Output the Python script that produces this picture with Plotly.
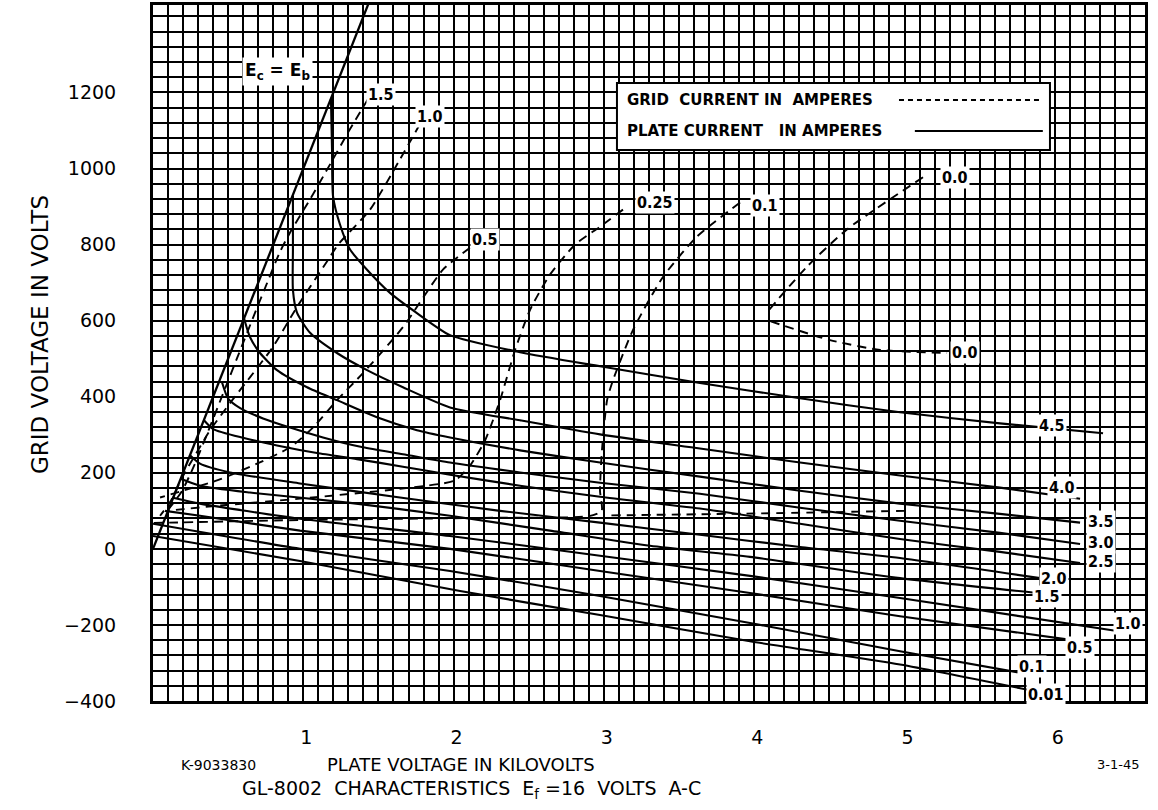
import plotly.graph_objects as go

# ---------------- data (plate kV, grid V) ----------------
ecb_x = [0.0, 1.45]
ecb_y = [0.0, 1450.0]

# plate-current curves (solid), amperes
ip_labels = ["4.5", "4.0", "3.5", "3.0", "2.5", "2.0", "1.5", "1.0", "0.5", "0.1", "0.01"]
ip45_x = [1.184, 1.191, 1.198, 1.244, 1.311, 1.424, 1.577, 1.756, 1.976, 2.442, 2.974, 3.639, 4.305, 4.970, 5.635, 6.321]
ip45_y = [1183, 1051, 927, 853, 787, 734, 673, 620, 562, 517, 480, 436, 396, 359, 330, 304]
ip40_x = [0.931, 0.931, 0.931, 0.958, 1.045, 1.224, 1.424, 1.663, 1.976, 2.442, 2.974, 3.639, 4.305, 4.970, 5.635, 6.168]
ip40_y = [929, 787, 681, 621, 568, 515, 470, 425, 372, 338, 301, 264, 227, 193, 161, 132]
ip35_x = [0.605, 0.645, 0.712, 0.825, 1.025, 1.224, 1.490, 1.756, 1.976, 2.442, 2.974, 3.639, 4.305, 4.970, 5.635, 6.168]
ip35_y = [607, 557, 515, 470, 425, 391, 346, 312, 293, 259, 227, 190, 153, 119, 92, 69]
ip30_x = [0.459, 0.500, 0.580, 0.732, 0.912, 1.131, 1.397, 1.663, 1.976, 2.442, 2.974, 3.639, 4.305, 4.970, 5.635, 6.168]
ip30_y = [438, 395, 370, 343, 319, 293, 267, 249, 227, 201, 174, 145, 108, 74, 42, 13]
ip25_x = [0.339, 0.400, 0.599, 0.825, 1.091, 1.357, 1.663, 1.976, 2.442, 2.974, 3.639, 4.305, 4.970, 5.635, 6.168]
ip25_y = [338, 315, 292, 272, 252, 236, 216, 195, 166, 137, 106, 66, 26, -8, -37]
ip20_x = [0.246, 0.313, 0.512, 0.978, 1.643, 2.309, 2.974, 3.639, 4.305, 4.970, 5.902]
ip20_y = [246, 224, 201, 172, 135, 100, 69, 37, 5, -24, -77]
ip15_x = [0.180, 0.313, 0.645, 1.311, 1.976, 2.641, 3.307, 3.972, 4.970, 5.882]
ip15_y = [185, 166, 148, 121, 87, 48, 8, -21, -77, -116]
ip10_x = [0.126, 0.313, 0.978, 1.976, 2.974, 3.972, 4.970, 6.414]
ip10_y = [135, 119, 79, 34, -18, -71, -129, -216]
ip05_x = [0.080, 0.313, 0.978, 1.976, 2.974, 3.972, 4.970, 6.081]
ip05_y = [100, 87, 48, 0, -58, -116, -177, -238]
ip01_x = [0.0, 0.978, 1.976, 2.974, 3.972, 4.970, 5.788]
ip01_y = [66, 0, -58, -124, -195, -269, -327]
ip001_x = [0.0, 0.978, 2.043, 2.974, 3.972, 4.970, 5.815]
ip001_y = [34, -32, -111, -174, -243, -304, -370]

# grid-current curves (dashed), amperes
ig15_x = [1.431, 1.311, 1.178, 1.045, 0.912, 0.845, 0.760, 0.670, 0.570, 0.470, 0.370, 0.275, 0.190, 0.110]
ig15_y = [1183, 1104, 1011, 919, 832, 781, 700, 612, 512, 412, 312, 220, 150, 108]
ig10_x = [1.776, 1.643, 1.444, 1.231, 1.178, 0.958, 0.798, 0.645, 0.512, 0.380, 0.280, 0.190, 0.120, 0.047]
ig10_y = [1117, 1024, 892, 800, 768, 636, 531, 451, 383, 312, 246, 185, 127, 87]
ig05_x = [2.109, 1.929, 1.663, 1.397, 1.224, 1.065, 0.912, 0.692, 0.426, 0.200, 0.047]
ig05_y = [792, 734, 583, 462, 391, 319, 267, 224, 180, 153, 135]
ig025_x = [3.127, 2.974, 2.808, 2.641, 2.508, 2.409, 2.309, 2.209, 2.109, 2.009, 1.643, 0.978, 0.446, 0.093]
ig025_y = [892, 847, 800, 721, 628, 523, 391, 285, 219, 180, 158, 132, 114, 100]
ig01_x = [3.906, 3.619, 3.393, 3.194, 3.061, 3.021, 2.987, 2.974, 2.985, 2.900, 2.300, 1.000, 0.000]
ig01_y = [911, 821, 715, 576, 444, 391, 259, 153, 100, 86, 82, 76, 68]
ig01b_x = [3.05, 4.0, 5.003]
ig01b_y = [88, 93, 100]
ig00a_x = [5.123, 4.617, 4.351, 4.080]
ig00a_y = [977, 840, 742, 620]
ig00b_x = [4.110, 4.504, 4.837, 5.283]
ig00b_y = [598, 549, 523, 515]

# label anchors (kV, V)
ip_lab_x = [5.98, 6.05, 6.31, 6.31, 6.31, 5.995, 5.95, 6.487, 6.168, 5.85, 5.94]
ip_lab_y = [325, 161, 71, 16, -34, -79, -124, -195, -259, -309, -383]
ig_labels = ["1.5", "1.0", "0.5", "0.25", "0.1", "0.0", "0.0"]
ig_lab_x = [1.517, 1.843, 2.209, 3.340, 4.072, 5.336, 5.402]
ig_lab_y = [1196, 1138, 813, 911, 903, 977, 517]

x_ticks = [1, 2, 3, 4, 5, 6]
y_ticks = [-400, -200, 0, 200, 400, 600, 800, 1000, 1200]
y_ticktext = ["\u2212400", "\u2212200", "0", "200", "400", "600", "800", "1000", "1200"]

# ---------------- figure ----------------
fig = go.Figure()
LW = 2.1
GW = 1.7
solid = [(ip45_x, ip45_y), (ip40_x, ip40_y), (ip35_x, ip35_y), (ip30_x, ip30_y), (ip25_x, ip25_y),
         (ip20_x, ip20_y), (ip15_x, ip15_y), (ip10_x, ip10_y), (ip05_x, ip05_y), (ip01_x, ip01_y),
         (ip001_x, ip001_y)]
dashed = [(ig15_x, ig15_y), (ig10_x, ig10_y), (ig05_x, ig05_y), (ig025_x, ig025_y), (ig01_x, ig01_y),
          (ig01b_x, ig01b_y), (ig00a_x, ig00a_y), (ig00b_x, ig00b_y)]

fig.add_trace(go.Scatter(x=ecb_x, y=ecb_y, mode="lines", line=dict(color="black", width=2.3),
                         hoverinfo="skip", showlegend=False))
for xs, ys in solid:
    fig.add_trace(go.Scatter(x=xs, y=ys, mode="lines",
                             line=dict(color="black", width=LW, shape="spline", smoothing=0.6),
                             hoverinfo="skip", showlegend=False))
for xs, ys in dashed:
    fig.add_trace(go.Scatter(x=xs, y=ys, mode="lines",
                             line=dict(color="black", width=1.9, dash="9px,6px", shape="spline", smoothing=0.6),
                             hoverinfo="skip", showlegend=False))

lab_font = dict(family="DejaVu Sans Condensed, DejaVu Sans", size=16, color="black")
for t, x, y in zip(ip_labels, ip_lab_x, ip_lab_y):
    fig.add_annotation(x=x, y=y, text="<b>" + t + "</b>", showarrow=False, bgcolor="white",
                       borderpad=1, font=lab_font, xanchor="center", yanchor="middle")
for t, x, y in zip(ig_labels, ig_lab_x, ig_lab_y):
    fig.add_annotation(x=x, y=y, text="<b>" + t + "</b>", showarrow=False, bgcolor="white",
                       borderpad=1, font=lab_font, xanchor="center", yanchor="middle")

fig.add_annotation(x=0.83, y=1254, text="<b>E<sub>c</sub> = E<sub>b</sub></b>", showarrow=False,
                   bgcolor="white", borderpad=2, xanchor="center", yanchor="middle",
                   font=dict(family="DejaVu Sans", size=17, color="black"))

# legend box
fig.add_shape(type="rect", xref="paper", yref="paper", x0=0.4677, x1=0.9042, y0=0.7917, y1=0.888,
              fillcolor="white", line=dict(color="black", width=2), layer="above")
leg_font = dict(family="DejaVu Sans", size=15, color="black")
fig.add_annotation(xref="paper", yref="paper", x=0.476, y=0.8635, xanchor="left", yanchor="middle",
                   showarrow=False, text="<b>GRID  CURRENT IN  AMPERES</b>", font=leg_font)
fig.add_annotation(xref="paper", yref="paper", x=0.476, y=0.819, xanchor="left", yanchor="middle",
                   showarrow=False, text="<b>PLATE CURRENT   IN AMPERES</b>", font=leg_font)
fig.add_shape(type="line", xref="paper", yref="paper", x0=0.752, x1=0.897, y0=0.8635, y1=0.8635,
              line=dict(color="black", width=1.8, dash="5px,4px"), layer="above")
fig.add_shape(type="line", xref="paper", yref="paper", x0=0.768, x1=0.897, y0=0.819, y1=0.819,
              line=dict(color="black", width=2), layer="above")

txt_font = dict(family="DejaVu Sans", size=18, color="black")
fig.add_annotation(xref="paper", yref="paper", x=(461 - 153) / 992, y=(701 - 765) / 696, showarrow=False,
                   xanchor="center", yanchor="middle", text="PLATE VOLTAGE IN KILOVOLTS", font=txt_font)
fig.add_annotation(xref="paper", yref="paper", x=(471 - 153) / 992, y=(701 - 790) / 696, showarrow=False,
                   xanchor="center", yanchor="middle",
                   text="GL-8002  CHARACTERISTICS  E<sub>f</sub> =16  VOLTS  A-C",
                   font=dict(family="DejaVu Sans", size=19, color="black"))
fig.add_annotation(xref="paper", yref="paper", x=(218 - 153) / 992, y=(701 - 765) / 696, showarrow=False,
                   xanchor="center", yanchor="middle", text="K-9033830",
                   font=dict(family="DejaVu Sans", size=14, color="black"))
fig.add_annotation(xref="paper", yref="paper", x=(1118 - 153) / 992, y=(701 - 765) / 696, showarrow=False,
                   xanchor="center", yanchor="middle", text="3-1-45",
                   font=dict(family="DejaVu Sans", size=13, color="black"))
fig.add_annotation(xref="paper", yref="paper", x=(40 - 153) / 992, y=(701 - 335) / 696, showarrow=False,
                   xanchor="center", yanchor="middle", textangle=-90, text="GRID VOLTAGE IN VOLTS",
                   font=dict(family="DejaVu Sans", size=23, color="black"))

fig.update_layout(
    width=1158, height=810,
    margin=dict(l=153, r=13, t=5, b=109),
    paper_bgcolor="white", plot_bgcolor="white",
    showlegend=False,
    xaxis=dict(range=[0, 6.6], tickvals=x_ticks, ticks="", showgrid=True, gridcolor="black", gridwidth=GW,
               zeroline=False, showline=True, linecolor="black", linewidth=3, mirror=True,
               tickfont=dict(family="DejaVu Sans", size=19, color="black"), ticklabelstandoff=17,
               ticklabelshift=3, automargin=False,
               minor=dict(dtick=0.1, tick0=0, showgrid=True, gridcolor="black", gridwidth=GW, ticks="")),
    yaxis=dict(range=[-400, 1430], tickvals=y_ticks, ticktext=y_ticktext, ticks="", showgrid=True,
               gridcolor="black", gridwidth=GW, zeroline=False, showline=True, linecolor="black",
               linewidth=3, mirror=True, tickfont=dict(family="DejaVu Sans", size=19, color="black"),
               ticklabelstandoff=30, automargin=False,
               minor=dict(dtick=40, tick0=0, showgrid=True, gridcolor="black", gridwidth=GW, ticks="")),
)

fig.write_html("out.html", config={"displayModeBar": False},
               post_script="document.body.style.margin='0px';document.body.style.overflow='hidden';")
